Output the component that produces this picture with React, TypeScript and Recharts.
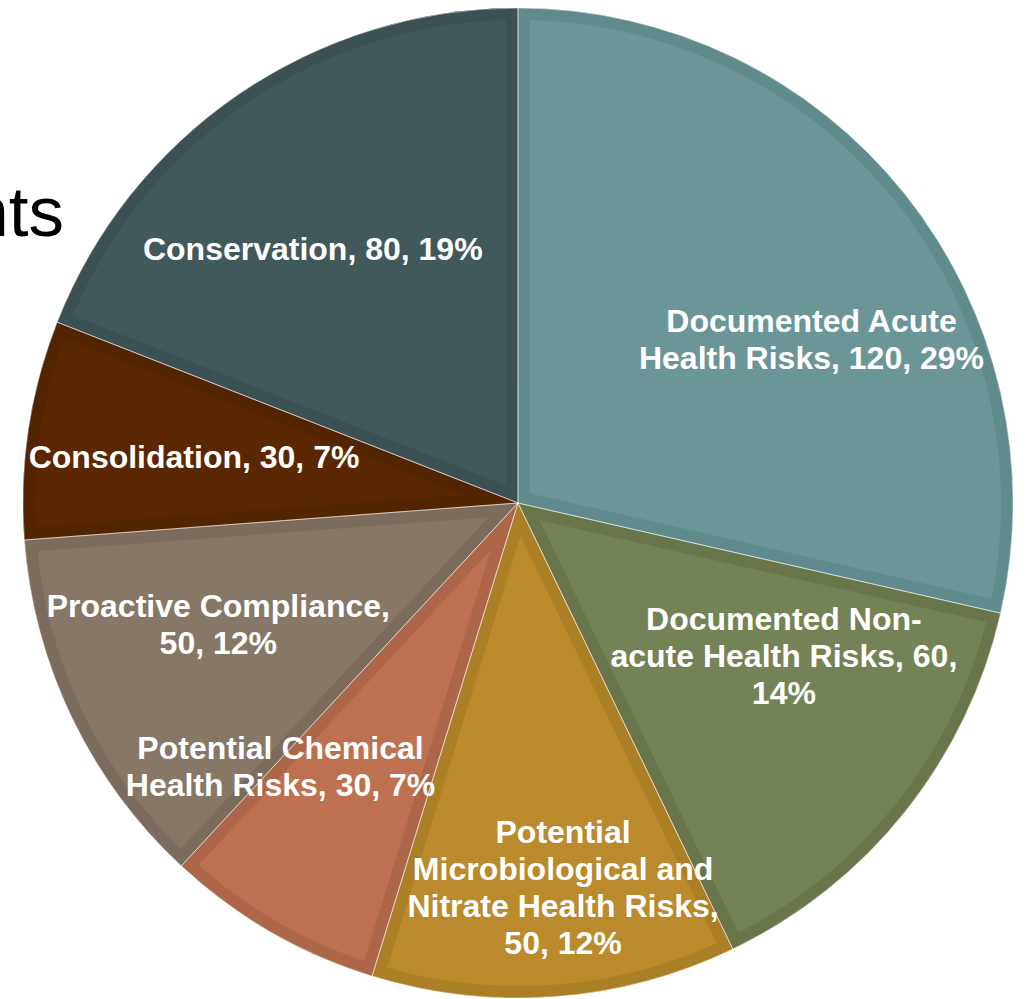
import React from 'react';
import { PieChart, Pie, Cell } from 'recharts';

const categories = [
  'Documented Acute Health Risks',
  'Documented Non-acute Health Risks',
  'Potential Microbiological and Nitrate Health Risks',
  'Potential Chemical Health Risks',
  'Proactive Compliance',
  'Consolidation',
  'Conservation',
];
const values = [120, 60, 50, 30, 50, 30, 80];

// line breaks of each data label, {v} = value, {p} = percent
const labelLines = [
  ['Documented Acute', 'Health Risks, {v}, {p}%'],
  ['Documented Non-', 'acute Health Risks, {v},', '{p}%'],
  ['Potential', 'Microbiological and', 'Nitrate Health Risks,', '{v}, {p}%'],
  ['Potential Chemical', 'Health Risks, {v}, {p}%'],
  ['Proactive Compliance,', '{v}, {p}%'],
  ['Consolidation, {v}, {p}%'],
  ['Conservation, {v}, {p}%'],
];

const FILLS = ['#6b9697', '#748356', '#ba8a2c', '#bd7150', '#877767', '#5a2700', '#42595b'];
const BORDERS = ['#608b8d', '#69764b', '#ab7f25', '#ad6647', '#7b6c5d', '#532400', '#3c5153'];

// [radius factor, angle nudge in degrees] for each data label
const LABEL_LAYOUT: [number, number][] = [
  [0.679, -9.4],
  [0.62, 8.6],
  [0.782, 2.4],
  [0.717, -12],
  [0.653, -3.7],
  [0.661, 0.5],
  [0.659, 4.7],
];

const data = categories.map((name, i) => ({ name, value: values[i] }));
const total = values.reduce((a, b) => a + b, 0);

const RAD = Math.PI / 180;
const LINE_H = 37;

function renderLabel(props: any) {
  const { cx, cy, midAngle, outerRadius, index, value } = props;
  const [k, nudge] = LABEL_LAYOUT[index];
  const a = (midAngle + nudge) * RAD;
  const r = outerRadius * k;
  const x = cx + r * Math.cos(a);
  const y = cy - r * Math.sin(a);
  const pct = Math.round((value / total) * 100);
  const lines = labelLines[index].map((l) => l.replace('{v}', String(value)).replace('{p}', String(pct)));
  const y0 = y - ((lines.length - 1) * LINE_H) / 2;
  return (
    <text
      key={`lbl-${index}`}
      x={x}
      y={y0}
      textAnchor="middle"
      dominantBaseline="central"
      fill="#ffffff"
      fontSize={32}
      fontWeight="bold"
      fontFamily="'Liberation Sans', Arial, sans-serif"
    >
      {lines.map((l, i) => (
        <tspan key={i} x={x} y={y0 + i * LINE_H}>
          {l}
        </tspan>
      ))}
    </text>
  );
}

if (typeof document !== 'undefined') document.body.style.margin = '0';

export default function App() {
  const pieGeom = { cx: 518, cy: 503, outerRadius: 495, startAngle: 90, endAngle: -270 };
  return (
    <div style={{ position: 'relative', width: 1026, height: 999, overflow: 'hidden', background: '#fff' }}>
      <svg width={0} height={0} style={{ position: 'absolute' }}>
        <defs>
          {data.map((_, i) => (
            <clipPath key={i} id={`clip-${i}`}>
              <use href={`#slice-${i}`} />
            </clipPath>
          ))}
        </defs>
      </svg>
      <svg width={1026} height={999} style={{ position: 'absolute', left: 0, top: 0 }}>
        <text x={64} y={236} textAnchor="end" fontSize={71} fill="#000" fontFamily="'Liberation Sans', Arial, sans-serif">
          nts
        </text>
      </svg>
      <div style={{ position: 'absolute', left: 0, top: 0 }}>
        <PieChart width={1026} height={999} margin={{ top: 0, right: 0, bottom: 0, left: 0 }}>
          <Pie data={data} dataKey="value" nameKey="name" {...pieGeom} stroke="none" isAnimationActive={false}>
            {data.map((_, i) => (
              <Cell key={i} id={`slice-${i}`} fill={FILLS[i]} stroke="none" />
            ))}
          </Pie>
          <Pie data={data} dataKey="value" nameKey="name" {...pieGeom} isAnimationActive={false}>
            {data.map((_, i) => (
              <Cell
                key={i}
                fill="none"
                stroke={BORDERS[i]}
                strokeWidth={24}
                clipPath={`url(#clip-${i})`}
              />
            ))}
          </Pie>
          <Pie
            data={data}
            dataKey="value"
            nameKey="name"
            {...pieGeom}
            isAnimationActive={false}
            labelLine={false}
            label={renderLabel}
          >
            {data.map((_, i) => (
              <Cell key={i} fill="none" stroke="#ffffff" strokeOpacity={0.45} strokeWidth={1} />
            ))}
          </Pie>
        </PieChart>
      </div>
    </div>
  );
}
